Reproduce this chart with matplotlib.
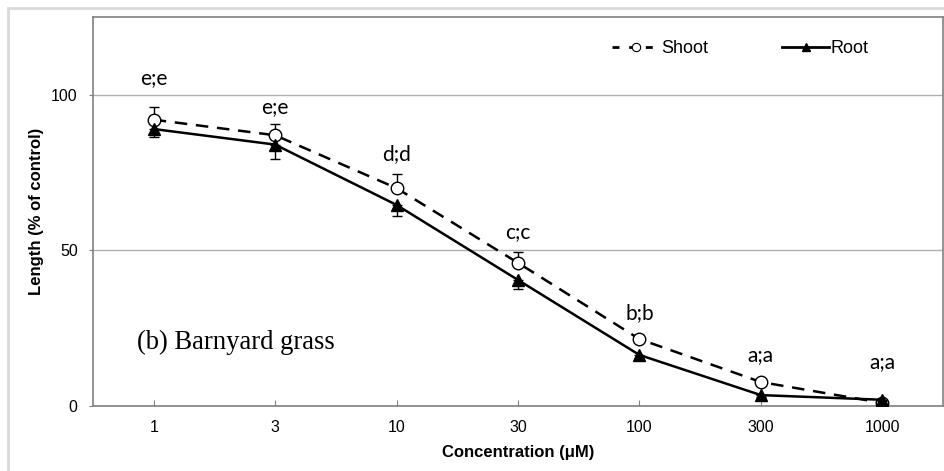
import matplotlib.pyplot as plt
from matplotlib.lines import Line2D
from matplotlib.patches import Rectangle

# data
conc = ['1', '3', '10', '30', '100', '300', '1000']
shoot = [92, 87, 70, 46, 21.5, 7.7, 1]
shoot_err = [4, 3.7, 4.6, 3.5, 1.2, 0.8, 0.3]
root = [89, 84, 64.6, 40.5, 16.4, 3.5, 2]
root_err = [2.5, 4.5, 3.5, 2.9, 1.0, 0.5, 0.3]
letters = ['e;e', 'e;e', 'd;d', 'c;c', 'b;b', 'a;a', 'a;a']
label_y = [105.5, 96, 81, 56, 30, 16.5, 14]

plt.rcParams['font.family'] = ['Liberation Sans', 'DejaVu Sans']

fig = plt.figure(figsize=(9.45, 4.71), dpi=100)
ax = fig.add_axes([93 / 945, 1 - 406 / 471, 850 / 945, 389 / 471])

# light grey outer frame (top and left)
fig.patches.append(Rectangle((8 / 945, -0.1), 1.2, 1.1 - 8 / 471, transform=fig.transFigure,
                             fill=False, edgecolor='#d9d9d9', linewidth=2))

x = list(range(len(conc)))

# shoot: dashed, open circles, error up
ax.errorbar(x, shoot, yerr=[[0] * len(x), shoot_err], color='black', linestyle=(0, (5, 3.5)),
            linewidth=1.8, marker='o', markersize=9, markerfacecolor='white',
            markeredgecolor='black', markeredgewidth=1, capsize=3.5, elinewidth=1,
            ecolor='black', zorder=3)
# root: solid, filled triangles, error down
ax.errorbar(x, root, yerr=[root_err, [0] * len(x)], color='black', linestyle='-',
            linewidth=1.8, marker='^', markersize=8, markerfacecolor='black',
            markeredgecolor='black', capsize=3.5, elinewidth=1, ecolor='black', zorder=4)

for i, t in enumerate(letters):
    ax.text(x[i], label_y[i], t, ha='center', va='center', fontsize=15, family=['Lato', 'DejaVu Sans'])

ax.text(-0.14, 20.3, '(b) Barnyard grass', ha='left', va='center', fontsize=19.2,
        family=['Liberation Serif', 'DejaVu Serif'])

ax.set_xlim(-0.5, 6.5)
ax.set_ylim(0, 125)
ax.set_xticks(x)
ax.set_xticklabels(conc, fontsize=11.5)
ax.set_yticks([0, 50, 100])
ax.set_yticklabels(['0', '50', '100'], fontsize=11.5)
ax.tick_params(axis='x', direction='in', length=4, color='#808080', pad=10)
ax.tick_params(axis='y', direction='out', length=3, color='#808080', pad=8)
ax.yaxis.grid(True, color='#b0b0b0', linewidth=1)
ax.set_axisbelow(True)
for s in ax.spines.values():
    s.set_color('#808080')
    s.set_linewidth(1.2)

ax.set_xlabel('Concentration (μM)', fontsize=12, fontweight='bold', labelpad=7)
ax.set_ylabel('Length (% of control)', fontsize=12, fontweight='bold', labelpad=5)

handles = [Line2D([], [], color='black', linestyle=(0, (2.5, 3.5)), linewidth=2, marker='o',
                  markersize=6, markerfacecolor='white', markeredgewidth=0.8),
           Line2D([], [], color='black', linestyle='-', linewidth=2, marker='^',
                  markersize=6, markerfacecolor='black')]
ax.legend(handles, ['Shoot', 'Root'], loc='center', bbox_to_anchor=(0.762, 0.918), ncol=2,
          frameon=False, fontsize=13, handlelength=2.6, handletextpad=0.1,
          columnspacing=4.1)

fig.savefig('out.png', dpi=100)
